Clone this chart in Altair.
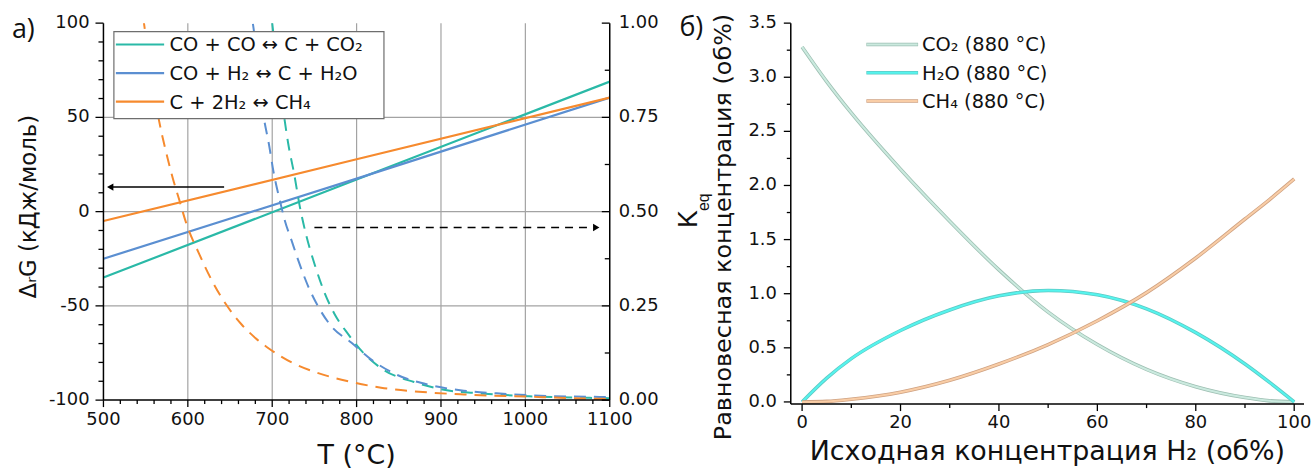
import altair as alt
import pandas as pd

FONT = "DejaVu Sans"
KFONT = "Liberation Sans"
PFONT = "Open Sans"

# ---------------- panel а) data ----------------
series_a = ["CO + CO ↔ C + CO₂", "CO + H₂ ↔ C + H₂O", "C + 2H₂ ↔ CH₄"]
colors_a = ["#2ab9a7", "#5b8fd1", "#f68a2e"]

T_dg = [500, 800, 1100]
dg_coco = [-35, 17, 69]
dg_coh2 = [-25, 17.5, 60.5]
dg_ch4 = [-5, 27.8, 60.5]

T_k_coco = [697, 700, 707, 713, 719, 726, 733, 740, 751, 762, 774, 790, 809, 833, 868, 907, 946, 1005, 1076, 1100]
k_coco = [1.06, 1.0, 0.87, 0.77, 0.68, 0.60, 0.51, 0.44, 0.355, 0.285, 0.228, 0.175, 0.123, 0.079, 0.048, 0.026, 0.018, 0.010, 0.006, 0.005]

T_k_coh2 = [673, 677, 690, 696, 702, 709, 715, 723, 731, 743, 754, 770, 794, 817, 849, 887, 927, 966, 1025, 1076, 1100]
k_coh2 = [1.05, 1.0, 0.75, 0.68, 0.60, 0.53, 0.476, 0.423, 0.37, 0.30, 0.25, 0.196, 0.152, 0.108, 0.066, 0.04, 0.025, 0.018, 0.011, 0.009, 0.008]

T_k_ch4 = [540, 548, 556, 566, 574, 582, 590, 598, 613, 629, 645, 664, 680, 696, 723, 750, 790, 829, 887, 927, 1005, 1076, 1100]
k_ch4 = [1.12, 1.0, 0.87, 0.74, 0.66, 0.59, 0.53, 0.47, 0.39, 0.315, 0.255, 0.20, 0.165, 0.137, 0.10, 0.075, 0.05, 0.033, 0.02, 0.015, 0.009, 0.004, 0.003]

grid_T = [600, 700, 800, 900, 1000]
grid_G = [-50, 0, 50]
T_major = [500, 600, 700, 800, 900, 1000, 1100]
T_minor = [t for t in range(520, 1100, 20) if t % 100 != 0]
G_major = [-100, -50, 0, 50, 100]
G_minor = [g for g in range(-90, 100, 10) if g % 50 != 0]
k_major = [0, 0.25, 0.5, 0.75, 1.0]
k_minor = [0.125, 0.375, 0.625, 0.875]

arrow_left_T = [510, 643]
arrow_left_G = [13, 13]
arrow_left_head_T = [508]
arrow_right_T = [750, 1080]
arrow_right_K = [0.458, 0.458]
arrow_right_head_T = [1084]

# ---------------- panel б) data ----------------
x_h2 = [0, 5, 10, 20, 30, 40, 50, 60, 70, 80, 90, 95, 100]
c_co2 = [3.28, 2.96, 2.67, 2.15, 1.67, 1.22, 0.83, 0.53, 0.30, 0.14, 0.04, 0.01, 0.0]
c_h2o = [0.0, 0.22, 0.40, 0.66, 0.85, 0.98, 1.03, 0.99, 0.86, 0.64, 0.35, 0.18, 0.0]
c_ch4 = [0.0, 0.005, 0.025, 0.09, 0.20, 0.35, 0.53, 0.75, 1.01, 1.33, 1.69, 1.87, 2.06]
series_b = ["CO₂ (880 °C)", "H₂O (880 °C)", "CH₄ (880 °C)"]
inner_b = ["#cbeadf", "#55f4ee", "#f9cda6"]
edge_b = ["#9dbfb2", "#5fc9c4", "#cfa282"]
X_major = [0, 20, 40, 60, 80, 100]
X_minor = [10, 30, 50, 70, 90]
C_major = [0, 0.5, 1.0, 1.5, 2.0, 2.5, 3.0, 3.5]
C_minor = [0.25, 0.75, 1.25, 1.75, 2.25, 2.75, 3.25]

# ---------------- helpers ----------------
W_A, H_A = 509, 379
W_B, H_B = 516, 383
TICK, MINOR = 7, 4
LBL = 18
LEG = 19.5

one = pd.DataFrame({"d": [0]})

sx_a = alt.Scale(domain=[500, 1100], nice=False, zero=False)
sg = alt.Scale(domain=[-100, 100], nice=False, zero=False)
sc = alt.Scale(domain=series_a, range=colors_a)
K2G = "datum.K * 200 - 100"   # right axis K (0..1) drawn on the same vertical scale


def txt(text, x, y, size, angle=0, align="center", font=FONT):
    kw = dict(align=align, baseline="middle", fontSize=size, font=font, color="#111")
    if angle:
        kw["angle"] = angle
    return alt.Chart(one).mark_text(**kw).encode(
        x=alt.value(x), y=alt.value(y), text=alt.value(text))


def vrule(x, y0, y1):
    return alt.Chart(one).mark_rule(color="black", strokeWidth=1.5).encode(
        x=alt.value(x), y=alt.value(y0), y2=alt.value(y1))


def hrule(y, x0, x1):
    return alt.Chart(one).mark_rule(color="black", strokeWidth=1.5).encode(
        y=alt.value(y), x=alt.value(x0), x2=alt.value(x1))


def xticks(vals, field, scale, h, length):
    return alt.Chart(pd.DataFrame({field: vals})).mark_rule(color="black", strokeWidth=1.3).encode(
        x=alt.X(f"{field}:Q", scale=scale, axis=None), y=alt.value(h), y2=alt.value(h + length))


def yticks(df, field, scale, x0, x1, calc=None):
    ch = alt.Chart(df)
    if calc:
        ch = ch.transform_calculate(**calc)
    return ch.mark_rule(color="black", strokeWidth=1.3).encode(
        y=alt.Y(f"{field}:Q", scale=scale, axis=None), x=alt.value(x0), x2=alt.value(x1))


def xlabels(vals, field, scale, y, fmt_expr):
    return alt.Chart(pd.DataFrame({field: vals})).transform_calculate(lab=fmt_expr).mark_text(
        align="center", baseline="middle", fontSize=LBL, font=FONT, color="#111").encode(
        x=alt.X(f"{field}:Q", scale=scale, axis=None), y=alt.value(y), text="lab:N")


def ylabels(df, field, scale, x, align, fmt_expr, calc=None):
    ch = alt.Chart(df)
    if calc:
        ch = ch.transform_calculate(**calc)
    return ch.transform_calculate(lab=fmt_expr).mark_text(
        align=align, baseline="middle", fontSize=LBL, font=FONT, color="#111").encode(
        y=alt.Y(f"{field}:Q", scale=scale, axis=None), x=alt.value(x), text="lab:N")


# ---------------- panel а) ----------------
dg_rows = []
for name, vals in zip(series_a, [dg_coco, dg_coh2, dg_ch4]):
    for t, g in zip(T_dg, vals):
        dg_rows.append({"s": name, "T": t, "G": g})
df_dg = pd.DataFrame(dg_rows)

k_rows = []
for name, ts, ks in zip(series_a, [T_k_coco, T_k_coh2, T_k_ch4], [k_coco, k_coh2, k_ch4]):
    for t, k in zip(ts, ks):
        k_rows.append({"s": name, "T": t, "K": k})
df_k = pd.DataFrame(k_rows)

grid_v = alt.Chart(pd.DataFrame({"T": grid_T})).mark_rule(color="#a3a3a3", strokeWidth=1.2).encode(
    x=alt.X("T:Q", scale=sx_a, axis=None))
grid_h = alt.Chart(pd.DataFrame({"G": grid_G})).mark_rule(color="#a3a3a3", strokeWidth=1.2).encode(
    y=alt.Y("G:Q", scale=sg, axis=None))

dg_lines = alt.Chart(df_dg).mark_line(strokeWidth=2.2, clip=True).encode(
    x=alt.X("T:Q", scale=sx_a, axis=None),
    y=alt.Y("G:Q", scale=sg, axis=None),
    color=alt.Color("s:N", scale=sc, legend=None),
    detail="s:N")

k_lines = alt.Chart(df_k).transform_calculate(G=K2G).mark_line(
    strokeWidth=2, strokeDash=[12, 8], clip=True, interpolate="monotone").encode(
    x=alt.X("T:Q", scale=sx_a, axis=None),
    y=alt.Y("G:Q", scale=sg, axis=None),
    color=alt.Color("s:N", scale=sc, legend=None),
    detail="s:N")

axes_a = [
    vrule(0, 0, H_A), hrule(H_A, 0, W_A), vrule(W_A, 0, H_A),
    xticks(T_major, "T", sx_a, H_A, TICK),
    xticks(T_minor, "T", sx_a, H_A, MINOR),
    yticks(pd.DataFrame({"G": G_major}), "G", sg, -8, 0),
    yticks(pd.DataFrame({"G": G_minor}), "G", sg, -5, 0),
    yticks(pd.DataFrame({"K": k_major}), "G", sg, W_A - 8, W_A, calc={"G": K2G}),
    yticks(pd.DataFrame({"K": k_minor}), "G", sg, W_A - 5, W_A, calc={"G": K2G}),
    xlabels(T_major, "T", sx_a, H_A + 20, "'' + datum.T"),
    ylabels(pd.DataFrame({"G": G_major}), "G", sg, -14, "right", "'' + datum.G"),
    ylabels(pd.DataFrame({"K": k_major}), "G", sg, W_A + 9, "left",
            "format(datum.K, '.2f')", calc={"G": K2G}),
    txt("T (°C)", W_A / 2, 435, 27),
    txt("ΔᵣG (кДж/моль)", -75, H_A / 2 - 5, 23, angle=270),
]

arr1 = alt.Chart(pd.DataFrame({"T": arrow_left_T, "G": arrow_left_G})).mark_line(
    color="black", strokeWidth=1.5).encode(
    x=alt.X("T:Q", scale=sx_a, axis=None), y=alt.Y("G:Q", scale=sg, axis=None))
arr1h = alt.Chart(pd.DataFrame({"T": arrow_left_head_T, "G": [arrow_left_G[0]]})).mark_point(
    shape="triangle-left", filled=True, color="black", size=55, opacity=1).encode(
    x=alt.X("T:Q", scale=sx_a, axis=None), y=alt.Y("G:Q", scale=sg, axis=None))
arr2 = alt.Chart(pd.DataFrame({"T": arrow_right_T, "K": arrow_right_K})).transform_calculate(
    G=K2G).mark_line(color="black", strokeWidth=1.5, strokeDash=[8, 6]).encode(
    x=alt.X("T:Q", scale=sx_a, axis=None), y=alt.Y("G:Q", scale=sg, axis=None))
arr2h = alt.Chart(pd.DataFrame({"T": arrow_right_head_T, "K": [arrow_right_K[0]]})).transform_calculate(
    G=K2G).mark_point(shape="triangle-right", filled=True, color="black", size=55, opacity=1).encode(
    x=alt.X("T:Q", scale=sx_a, axis=None), y=alt.Y("G:Q", scale=sg, axis=None))

leg_box = alt.Chart(one).mark_rect(fill="white", stroke="#6e6e6e", strokeWidth=1.2).encode(
    x=alt.value(10.5), x2=alt.value(282), y=alt.value(8.5), y2=alt.value(96))
leg_a = [leg_box]
for i, (name, col) in enumerate(zip(series_a, colors_a)):
    yy = 21.5 + 28.7 * i
    leg_a.append(alt.Chart(one).mark_rule(color=col, strokeWidth=2.2).encode(
        x=alt.value(12.5), x2=alt.value(61), y=alt.value(yy)))
    leg_a.append(txt(name, 66.5, yy + 1, LEG, align="left"))

label_a = txt("а)", -92, 7, 27, align="left", font=PFONT)

panel_a = alt.layer(
    grid_v, grid_h, dg_lines, k_lines, *axes_a,
    arr1, arr1h, arr2, arr2h, *leg_a, label_a
).properties(width=W_A, height=H_A)

# ---------------- panel б) ----------------
sx_b = alt.Scale(domain=[-2.3, 102], nice=False, zero=False)
sy_b = alt.Scale(domain=[-0.02, 3.5], nice=False, zero=False)

b_layers = []
for name, vals, ic, ec in zip(series_b, [c_co2, c_h2o, c_ch4], inner_b, edge_b):
    df = pd.DataFrame({"x": x_h2, "c": vals})
    b_layers.append(alt.Chart(df).mark_line(color=ec, strokeWidth=3.6, interpolate="monotone").encode(
        x=alt.X("x:Q", scale=sx_b, axis=None), y=alt.Y("c:Q", scale=sy_b, axis=None)))
    b_layers.append(alt.Chart(df).mark_line(color=ic, strokeWidth=2.0, interpolate="monotone").encode(
        x=alt.X("x:Q", scale=sx_b, axis=None), y=alt.Y("c:Q", scale=sy_b, axis=None)))

b_layers += [
    vrule(0, 0, H_B), hrule(H_B, 0, W_B),
    xticks(X_major, "x", sx_b, H_B, TICK),
    xticks(X_minor, "x", sx_b, H_B, MINOR),
    yticks(pd.DataFrame({"c": C_major}), "c", sy_b, -TICK, 0),
    yticks(pd.DataFrame({"c": C_minor}), "c", sy_b, -MINOR, 0),
    xlabels(X_major, "x", sx_b, H_B + 19, "'' + datum.x"),
    ylabels(pd.DataFrame({"c": C_major}), "c", sy_b, -14, "right", "format(datum.c, '.1f')"),
    txt("Исходная концентрация H₂ (об%)", W_B / 2, 431, 27),
    txt("Равновесная концентрация (об%)", -67, 205, 24, angle=270),
]

for i, (name, ic, ec) in enumerate(zip(series_b, inner_b, edge_b)):
    yy = 21.5 + 28.4 * i
    b_layers.append(alt.Chart(one).mark_rule(color=ec, strokeWidth=3.6).encode(
        x=alt.value(76), x2=alt.value(128), y=alt.value(yy)))
    b_layers.append(alt.Chart(one).mark_rule(color=ic, strokeWidth=2.0).encode(
        x=alt.value(76.5), x2=alt.value(127.5), y=alt.value(yy)))
    b_layers.append(txt(name, 132, yy + 1, LEG, align="left"))

b_layers.append(txt("б)", -112, 5, 27, align="left", font=PFONT))
b_layers.append(txt("K", -102, 197, 27, angle=270, font=KFONT))
b_layers.append(txt("eq", -87, 180, 16, angle=270, font=KFONT))

panel_b = alt.layer(*b_layers).properties(width=W_B, height=H_B)

chart = alt.hconcat(panel_a, panel_b, spacing=16).properties(
    padding={"left": 12, "top": 12, "right": 0, "bottom": 0},
    background="white"
).configure_view(stroke=None)

chart.save("out.html", embed_options={"renderer": "svg", "actions": False})
